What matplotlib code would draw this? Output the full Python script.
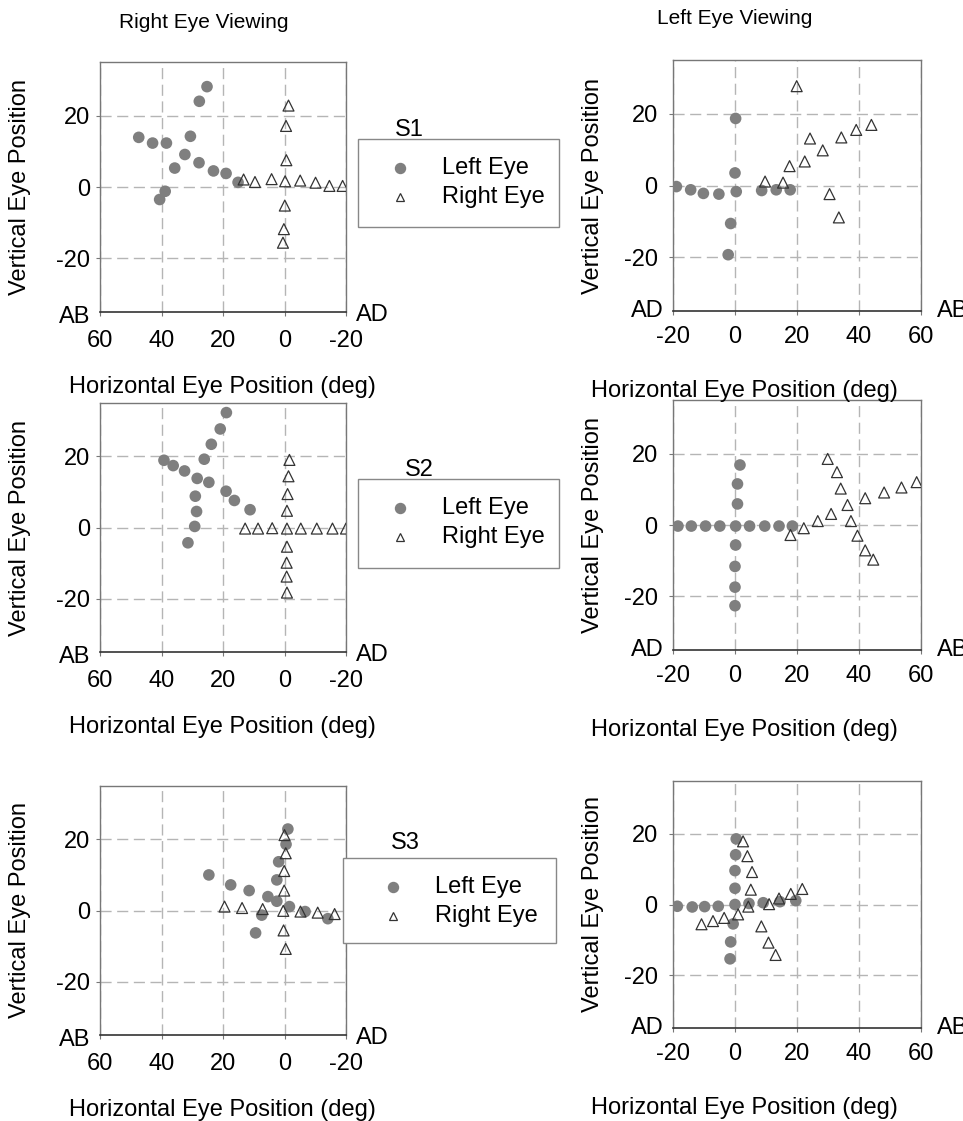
import matplotlib
matplotlib.use("Agg")
import matplotlib.pyplot as plt
from matplotlib.lines import Line2D
from matplotlib.patches import Rectangle

plt.rcParams['font.family'] = ['Liberation Sans', 'DejaVu Sans']
plt.rcParams['axes.unicode_minus'] = False

# ---- data (deg) ----
# Right eye viewing (left column)
s1_rv_left_x = [25.2, 27.7, 47.4, 42.9, 38.4, 30.6, 32.4, 35.7, 27.8, 23.1, 19.0, 15.1, 38.8, 40.6]
s1_rv_left_y = [28.1, 24.0, 13.9, 12.3, 12.3, 14.2, 9.1, 5.3, 6.8, 4.5, 3.8, 1.3, -1.2, -3.5]
s1_rv_right_x = [-1.3, -0.5, -0.6, 13.3, 9.6, 4.2, -0.2, -5.1, -10.1, -14.6, -18.9, -0.1, 0.2, 0.5]
s1_rv_right_y = [22.8, 17.1, 7.5, 2.1, 1.4, 2.2, 1.6, 1.8, 1.2, 0.3, 0.3, -5.2, -11.8, -15.6]

s2_rv_left_x = [18.9, 20.9, 23.8, 26.1, 39.2, 36.2, 32.5, 28.4, 24.6, 19.0, 16.3, 11.2, 29.0, 28.6, 29.2, 31.4]
s2_rv_left_y = [32.3, 27.7, 23.4, 19.2, 18.9, 17.4, 15.9, 13.8, 12.7, 10.2, 7.6, 5.0, 8.8, 4.5, 0.3, -4.3]
s2_rv_right_x = [-1.6, -1.3, -1.0, -0.8, 12.8, 8.6, 4.0, -0.8, -5.3, -10.5, -15.6, -20.0, -0.8, -0.7, -0.7, -0.8]
s2_rv_right_y = [19.0, 14.4, 9.4, 4.7, -0.3, -0.3, -0.2, -0.3, -0.3, -0.3, -0.3, -0.3, -5.4, -9.9, -13.8, -18.3]

s3_rv_left_x = [-1.1, -0.5, 1.9, 2.5, 24.6, 17.5, 11.5, 5.4, 2.5, -1.6, -6.7, -14.1, 7.4, 9.4]
s3_rv_left_y = [22.9, 18.6, 13.7, 8.6, 10.0, 7.2, 5.6, 3.9, 2.6, 1.1, -0.3, -2.3, -1.3, -6.3]
s3_rv_right_x = [0.0, -0.4, 0.1, 0.1, 19.5, 13.8, 7.1, 0.4, -5.2, -10.8, -16.3, 0.3, -0.4]
s3_rv_right_y = [21.2, 16.1, 11.1, 5.6, 1.1, 0.7, 0.4, -0.1, -0.3, -0.6, -1.0, -5.6, -10.8]

# Left eye viewing (right column)
s1_lv_left_x = [-18.9, -14.3, -10.2, -5.2, 0.2, 0.0, 0.4, -1.4, -2.2, 8.6, 13.3, 17.8]
s1_lv_left_y = [-0.3, -1.2, -2.2, -2.4, 18.7, 3.5, -1.7, -10.6, -19.3, -1.4, -1.2, -1.2]
s1_lv_right_x = [19.9, 9.7, 15.5, 17.6, 22.5, 24.2, 28.3, 30.5, 33.5, 34.3, 39.1, 44.0]
s1_lv_right_y = [27.7, 1.1, 0.8, 5.4, 6.7, 13.1, 9.8, -2.4, -8.9, 13.4, 15.5, 16.9]

s2_lv_left_x = [-18.4, -14.1, -9.5, -4.9, 0.2, 4.7, 9.6, 14.2, 18.5, 1.6, 0.8, 0.8, 0.2, 0.0, 0.0, 0.0]
s2_lv_left_y = [-0.3, -0.3, -0.3, -0.3, -0.3, -0.3, -0.3, -0.3, -0.3, 16.8, 11.5, 5.9, -5.6, -11.6, -17.4, -22.6]
s2_lv_right_x = [17.9, 22.2, 26.7, 31.0, 29.9, 32.9, 34.1, 36.3, 37.4, 39.5, 42.0, 44.6, 42.0, 48.1, 53.7, 58.6]
s2_lv_right_y = [-2.8, -0.9, 1.1, 3.1, 18.5, 14.8, 10.2, 5.6, 1.1, -3.0, -7.1, -9.7, 7.5, 9.1, 10.5, 12.0]

s3_lv_left_x = [-18.6, -13.8, -9.8, -5.4, 0.0, 4.5, 9.1, 14.5, 19.6, 0.4, 0.2, 0.0, 0.0, -0.6, -1.4, -1.6]
s3_lv_left_y = [-0.5, -0.7, -0.6, -0.5, 0.0, 0.3, 0.5, 0.8, 1.1, 18.6, 14.1, 9.6, 4.6, -5.5, -10.6, -15.4]
s3_lv_right_x = [2.6, 4.0, 5.5, 5.1, 4.3, 11.0, 14.2, 18.0, 21.7, 1.0, -3.5, -7.1, -10.8, 8.5, 10.8, 13.1]
s3_lv_right_y = [17.9, 13.7, 9.2, 4.2, -0.6, 0.1, 1.7, 3.0, 4.4, -2.8, -3.8, -4.7, -5.6, -6.2, -10.8, -14.3]

subjects = ['S1', 'S2', 'S3']
x_ticks = [-20, 0, 20, 40, 60]
y_ticks = [-20, 0, 20]

W, H = 963, 1121
fig = plt.figure(figsize=(W / 100, H / 100), dpi=100)

CIRCLE = '#7f7f7f'
TRI_EDGE = '#333333'
FS = 17


def add_axes_px(left, top, right, bottom):
    return fig.add_axes([left / W, 1 - bottom / H, (right - left) / W, (bottom - top) / H])


def ftext(x, y, s, **kw):
    fig.text(x / W, 1 - y / H, s, fontsize=kw.pop('fontsize', FS), **kw)


def style_panel(ax, reversed_x, xpad, ypad):
    ax.set_ylim(-35, 35)
    if reversed_x:
        ax.set_xlim(60, -20)
    else:
        ax.set_xlim(-20, 60)
    ax.set_xticks(x_ticks)
    ax.set_yticks(y_ticks)
    ax.grid(True, color='#b5b5b5', linestyle=(0, (8, 4)), linewidth=1.0)
    ax.set_axisbelow(True)
    for side in ['top', 'right', 'left']:
        ax.spines[side].set_color('#777777')
        ax.spines[side].set_linewidth(1.0)
    ax.spines['bottom'].set_color('#333333')
    ax.spines['bottom'].set_linewidth(1.2)
    ax.tick_params(axis='x', direction='out', length=3, color='#777777',
                   labelsize=FS, pad=xpad)
    ax.tick_params(axis='y', direction='out', length=3, color='#777777',
                   labelsize=FS, pad=ypad)


def draw_points(ax, lx, ly, rx, ry):
    ax.scatter(lx, ly, s=70, color=CIRCLE, edgecolors='none', zorder=3)
    ax.scatter(rx, ry, s=62, marker='^', facecolors='none',
               edgecolors=TRI_EDGE, linewidths=0.9, zorder=4)


# (left, top, right, bottom) in pixels
left_boxes = [(100, 62, 346, 312), (100, 403, 346, 652), (100, 786, 346, 1035)]
right_boxes = [(673, 60, 921, 311), (673, 400, 921, 650), (673, 781, 921, 1028)]

rv_data = [(s1_rv_left_x, s1_rv_left_y, s1_rv_right_x, s1_rv_right_y),
           (s2_rv_left_x, s2_rv_left_y, s2_rv_right_x, s2_rv_right_y),
           (s3_rv_left_x, s3_rv_left_y, s3_rv_right_x, s3_rv_right_y)]
lv_data = [(s1_lv_left_x, s1_lv_left_y, s1_lv_right_x, s1_lv_right_y),
           (s2_lv_left_x, s2_lv_left_y, s2_lv_right_x, s2_lv_right_y),
           (s3_lv_left_x, s3_lv_left_y, s3_lv_right_x, s3_lv_right_y)]

for i in range(3):
    # right eye viewing
    ax = add_axes_px(*left_boxes[i])
    style_panel(ax, True, xpad=10, ypad=4)
    draw_points(ax, *rv_data[i])
    ax.annotate('AB', xy=(0, 0), xycoords='axes fraction', xytext=(-10, -5),
                textcoords='offset pixels', ha='right', va='center', fontsize=FS)
    ax.annotate('AD', xy=(1, 0), xycoords='axes fraction', xytext=(10, -3),
                textcoords='offset pixels', ha='left', va='center', fontsize=FS)
    lb = left_boxes[i]
    ftext(20, (lb[1] + lb[3]) / 2, 'Vertical Eye Position', rotation=90,
          ha='center', va='center')
    ftext(222, lb[3] + 75, 'Horizontal Eye Position (deg)', ha='center', va='center')

    # left eye viewing
    ax = add_axes_px(*right_boxes[i])
    style_panel(ax, False, xpad=7.5, ypad=8)
    draw_points(ax, *lv_data[i])
    ax.annotate('AD', xy=(0, 0), xycoords='axes fraction', xytext=(-9, 0),
                textcoords='offset pixels', ha='right', va='center', fontsize=FS)
    ax.annotate('AB', xy=(1, 0), xycoords='axes fraction', xytext=(16, 0),
                textcoords='offset pixels', ha='left', va='center', fontsize=FS)
    rb = right_boxes[i]
    ftext(593, (rb[1] + rb[3]) / 2, 'Vertical Eye Position', rotation=90,
          ha='center', va='center')
    ftext(744, rb[3] + 80, 'Horizontal Eye Position (deg)', ha='center', va='center')

ftext(204, 22, 'Right Eye Viewing', ha='center', va='center', fontsize=15)
ftext(735, 18, 'Left Eye Viewing', ha='center', va='center', fontsize=15)

# legend boxes: (left, top, right, bottom), subject label pos, marker x, text x, row y's
legend_specs = [
    ((358, 139, 559, 227), (395, 130), 400, 442, (168, 197)),
    ((358, 479, 559, 568), (405, 470), 400, 442, (508, 537)),
    ((343, 858, 556, 943), (391, 843), 393, 435, (887, 916)),
]
for subj, (box, lab, mx, tx, rows) in zip(subjects, legend_specs):
    l, t, r, b = box
    fig.add_artist(Rectangle((l / W, 1 - b / H), (r - l) / W, (b - t) / H,
                             transform=fig.transFigure, facecolor='white',
                             edgecolor='#888888', linewidth=1.0))
    ftext(lab[0], lab[1], subj, ha='left', va='center')
    fig.add_artist(Line2D([mx / W], [1 - rows[0] / H], transform=fig.transFigure,
                          marker='o', markersize=7.2, color=CIRCLE, linestyle='none'))
    fig.add_artist(Line2D([mx / W], [1 - rows[1] / H], transform=fig.transFigure,
                          marker='^', markersize=6, markerfacecolor='none',
                          markeredgecolor=TRI_EDGE, markeredgewidth=0.9, linestyle='none'))
    ftext(tx, rows[0], 'Left Eye', ha='left', va='center')
    ftext(tx, rows[1], 'Right Eye', ha='left', va='center')

fig.savefig('out.png', dpi=100)
